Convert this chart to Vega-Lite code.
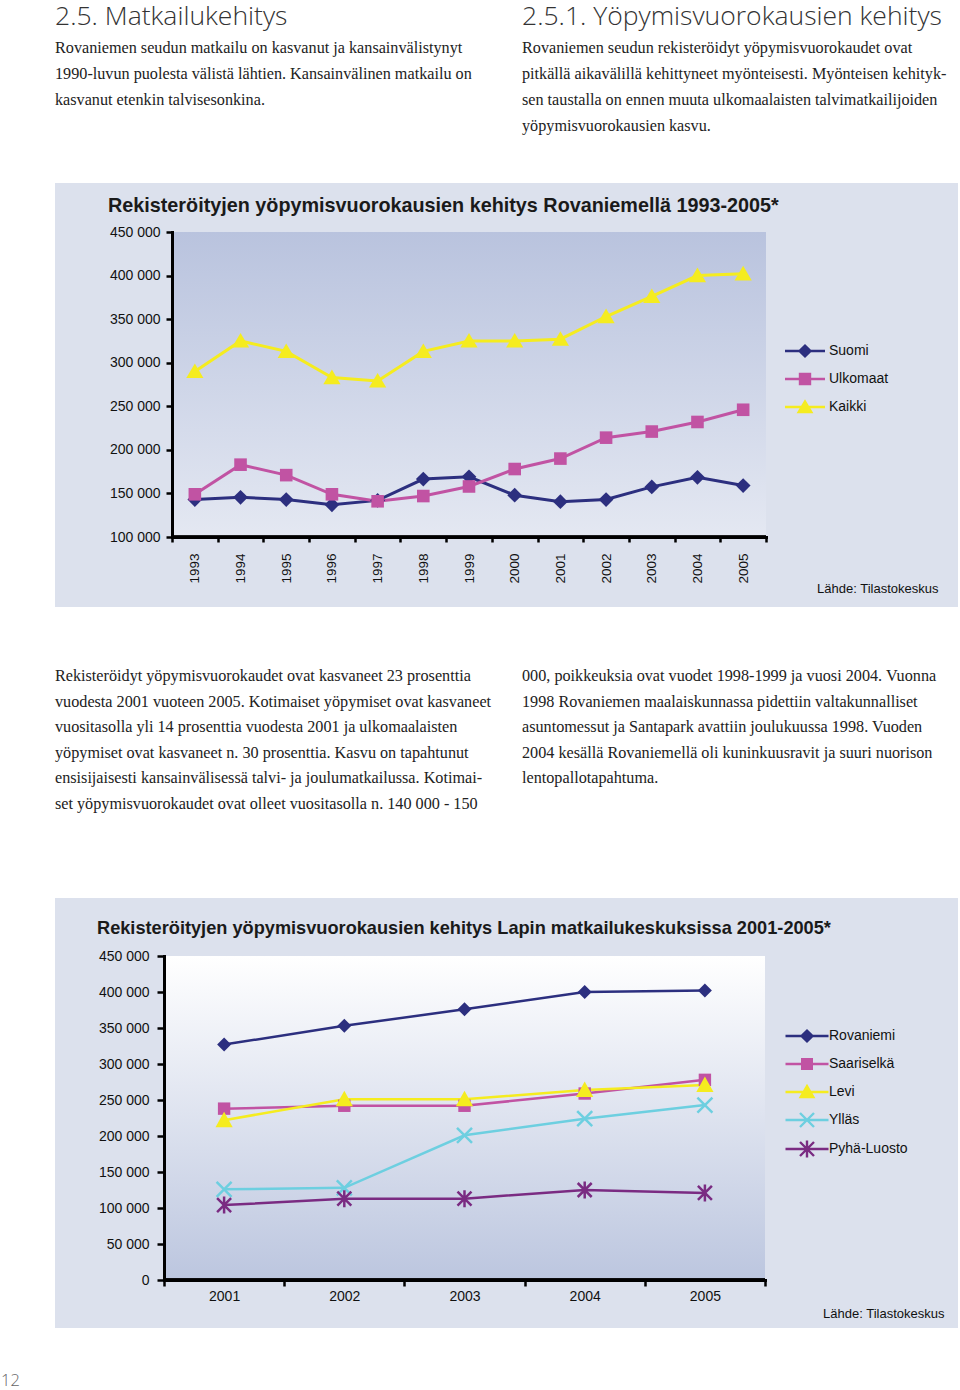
{
  "$schema": "https://vega.github.io/schema/vega-lite/v6.json",
  "background": "white",
  "padding": {"left": 1, "top": 0, "right": 2, "bottom": 0},
  "spacing": 0,
  "config": {"view": {"stroke": null}, "font": "Liberation Sans"},
  "resolve": {"scale": {"color": "independent", "shape": "independent"}, "legend": {"color": "independent", "shape": "independent"}},
  "title": {"text": "12", "orient": "bottom", "anchor": "start", "frame": "bounds", "dx": -47, "offset": 58, "baseline": "alphabetic", "font": "Open Sans", "fontWeight": 300, "fontSize": 16.5, "color": "#666666"},
  "datasets": {
    "intro": [
      {"col": 0, "line": 0, "text": "2.5. Matkailukehitys"},
      {"col": 0, "line": 1, "text": "Rovaniemen seudun matkailu on kasvanut ja kansainvälistynyt"},
      {"col": 0, "line": 2, "text": "1990-luvun puolesta välistä lähtien. Kansainvälinen matkailu on"},
      {"col": 0, "line": 3, "text": "kasvanut etenkin talvisesonkina."},
      {"col": 1, "line": 0, "text": "2.5.1. Yöpymisvuorokausien kehitys"},
      {"col": 1, "line": 1, "text": "Rovaniemen seudun rekisteröidyt yöpymisvuorokaudet ovat"},
      {"col": 1, "line": 2, "text": "pitkällä aikavälillä kehittyneet myönteisesti. Myönteisen kehityk-"},
      {"col": 1, "line": 3, "text": "sen taustalla on ennen muuta ulkomaalaisten talvimatkailijoiden"},
      {"col": 1, "line": 4, "text": "yöpymisvuorokausien kasvu."}
    ],
    "body": [
      {"col": 0, "line": 0, "text": "\u00a0\u00a0\u00a0\u00a0Rekisteröidyt yöpymisvuorokaudet ovat kasvaneet 23 prosenttia"},
      {"col": 0, "line": 1, "text": "vuodesta 2001 vuoteen 2005. Kotimaiset yöpymiset ovat kasvaneet"},
      {"col": 0, "line": 2, "text": "vuositasolla yli 14 prosenttia vuodesta 2001 ja ulkomaalaisten"},
      {"col": 0, "line": 3, "text": "yöpymiset ovat kasvaneet n. 30 prosenttia. Kasvu on tapahtunut"},
      {"col": 0, "line": 4, "text": "ensisijaisesti kansainvälisessä talvi- ja joulumatkailussa. Kotimai-"},
      {"col": 0, "line": 5, "text": "set yöpymisvuorokaudet ovat olleet vuositasolla n. 140 000 - 150"},
      {"col": 1, "line": 0, "text": "000, poikkeuksia ovat vuodet 1998-1999 ja vuosi 2004. Vuonna"},
      {"col": 1, "line": 1, "text": "1998 Rovaniemen maalaiskunnassa pidettiin valtakunnalliset"},
      {"col": 1, "line": 2, "text": "asuntomessut ja Santapark avattiin joulukuussa 1998. Vuoden"},
      {"col": 1, "line": 3, "text": "2004 kesällä Rovaniemellä oli kuninkuusravit ja suuri nuorison"},
      {"col": 1, "line": 4, "text": "lentopallotapahtuma."}
    ],
    "rov": [
      {"series": "Suomi", "year": 1993, "value": 143000},
      {"series": "Suomi", "year": 1994, "value": 145500},
      {"series": "Suomi", "year": 1995, "value": 143000},
      {"series": "Suomi", "year": 1996, "value": 137000},
      {"series": "Suomi", "year": 1997, "value": 142000},
      {"series": "Suomi", "year": 1998, "value": 166500},
      {"series": "Suomi", "year": 1999, "value": 169000},
      {"series": "Suomi", "year": 2000, "value": 148000},
      {"series": "Suomi", "year": 2001, "value": 140500},
      {"series": "Suomi", "year": 2002, "value": 143000},
      {"series": "Suomi", "year": 2003, "value": 157500},
      {"series": "Suomi", "year": 2004, "value": 168500},
      {"series": "Suomi", "year": 2005, "value": 159000},
      {"series": "Ulkomaat", "year": 1993, "value": 149000},
      {"series": "Ulkomaat", "year": 1994, "value": 183000},
      {"series": "Ulkomaat", "year": 1995, "value": 171000},
      {"series": "Ulkomaat", "year": 1996, "value": 149000},
      {"series": "Ulkomaat", "year": 1997, "value": 141000},
      {"series": "Ulkomaat", "year": 1998, "value": 147000},
      {"series": "Ulkomaat", "year": 1999, "value": 158000},
      {"series": "Ulkomaat", "year": 2000, "value": 178000},
      {"series": "Ulkomaat", "year": 2001, "value": 190000},
      {"series": "Ulkomaat", "year": 2002, "value": 214000},
      {"series": "Ulkomaat", "year": 2003, "value": 221000},
      {"series": "Ulkomaat", "year": 2004, "value": 232000},
      {"series": "Ulkomaat", "year": 2005, "value": 246000},
      {"series": "Kaikki", "year": 1993, "value": 290000},
      {"series": "Kaikki", "year": 1994, "value": 325000},
      {"series": "Kaikki", "year": 1995, "value": 313000},
      {"series": "Kaikki", "year": 1996, "value": 283000},
      {"series": "Kaikki", "year": 1997, "value": 279000},
      {"series": "Kaikki", "year": 1998, "value": 313000},
      {"series": "Kaikki", "year": 1999, "value": 325000},
      {"series": "Kaikki", "year": 2000, "value": 325000},
      {"series": "Kaikki", "year": 2001, "value": 327000},
      {"series": "Kaikki", "year": 2002, "value": 353000},
      {"series": "Kaikki", "year": 2003, "value": 376000},
      {"series": "Kaikki", "year": 2004, "value": 400000},
      {"series": "Kaikki", "year": 2005, "value": 402000}
    ],
    "lappi": [
      {"series": "Rovaniemi", "year": 2001, "value": 327000},
      {"series": "Rovaniemi", "year": 2002, "value": 353000},
      {"series": "Rovaniemi", "year": 2003, "value": 376000},
      {"series": "Rovaniemi", "year": 2004, "value": 400000},
      {"series": "Rovaniemi", "year": 2005, "value": 402000},
      {"series": "Saariselkä", "year": 2001, "value": 238000},
      {"series": "Saariselkä", "year": 2002, "value": 242000},
      {"series": "Saariselkä", "year": 2003, "value": 242000},
      {"series": "Saariselkä", "year": 2004, "value": 259000},
      {"series": "Saariselkä", "year": 2005, "value": 278000},
      {"series": "Levi", "year": 2001, "value": 222000},
      {"series": "Levi", "year": 2002, "value": 251000},
      {"series": "Levi", "year": 2003, "value": 251000},
      {"series": "Levi", "year": 2004, "value": 264000},
      {"series": "Levi", "year": 2005, "value": 271000},
      {"series": "Ylläs", "year": 2001, "value": 126000},
      {"series": "Ylläs", "year": 2002, "value": 128000},
      {"series": "Ylläs", "year": 2003, "value": 201000},
      {"series": "Ylläs", "year": 2004, "value": 224000},
      {"series": "Ylläs", "year": 2005, "value": 243000},
      {"series": "Pyhä-Luosto", "year": 2001, "value": 104000},
      {"series": "Pyhä-Luosto", "year": 2002, "value": 113000},
      {"series": "Pyhä-Luosto", "year": 2003, "value": 113000},
      {"series": "Pyhä-Luosto", "year": 2004, "value": 125000},
      {"series": "Pyhä-Luosto", "year": 2005, "value": 121000}
    ]
  },
  "vconcat": [
    {
      "width": 903,
      "height": 182,
      "data": {"name": "intro"},
      "encoding": {
        "x": {"field": "col", "type": "quantitative", "scale": {"domain": [0, 1], "range": [0, 467]}, "axis": null},
        "y": {"field": "line", "type": "quantitative", "scale": {"domain": [0, 4], "range": [27, 131]}, "axis": null},
        "text": {"field": "text", "type": "nominal"}
      },
      "layer": [
        {"transform": [{"filter": "datum.line === 0"}], "mark": {"type": "text", "align": "left", "baseline": "alphabetic", "font": "Open Sans", "fontWeight": 300, "fontSize": 26.5, "color": "#333333", "dy": -2}},
        {"transform": [{"filter": "datum.line > 0"}], "mark": {"type": "text", "align": "left", "baseline": "alphabetic", "font": "Liberation Serif", "fontSize": 16.2, "color": "#222222"}}
      ]
    },
    {
      "width": 903,
      "height": 424,
      "title": {"text": "Rekisteröityjen yöpymisvuorokausien kehitys Rovaniemellä 1993-2005*", "anchor": "start", "frame": "group", "orient": "top", "dx": 53, "offset": -48.8, "baseline": "alphabetic", "font": "Liberation Sans", "fontSize": 19.8, "fontWeight": "bold", "color": "#1a1a1a"},
      "resolve": {"scale": {"x": "independent"}, "axis": {"x": "independent", "y": "independent"}},
      "layer": [
        {
          "data": {"values": [{}]},
          "encoding": {
            "x": {"datum": 0, "type": "quantitative", "scale": {"domain": [0, 1], "range": [117, 711]}, "axis": null},
            "y": {"datum": 100000, "type": "quantitative", "scale": {"domain": [100000, 450000], "range": [354, 49], "nice": false, "zero": false}, "axis": null}
          },
          "layer": [
            {
              "mark": {"type": "rect", "color": "#dce1ed"},
              "encoding": {
                "x": {"datum": -0.19697, "type": "quantitative", "scale": {"domain": [0, 1], "range": [117, 711]}, "axis": null},
                "x2": {"datum": 1.32323},
                "y": {"datum": 19672, "type": "quantitative", "scale": {"domain": [100000, 450000], "range": [354, 49], "nice": false, "zero": false}, "axis": null},
                "y2": {"datum": 506230}
              }
            },
            {
              "mark": {"type": "rect", "fill": {"gradient": "linear", "x1": 0, "y1": 0, "x2": 0, "y2": 1, "stops": [{"offset": 0, "color": "#b9c3de"}, {"offset": 1, "color": "#e4e8f2"}]}},
              "encoding": {
                "x2": {"datum": 1},
                "y2": {"datum": 450000}
              }
            },
            {
              "data": {"values": [{"g": 150000}, {"g": 200000}, {"g": 250000}, {"g": 300000}, {"g": 350000}, {"g": 400000}, {"g": 450000}]},
              "mark": {"type": "rule", "color": "#000000", "strokeWidth": 2.5},
              "encoding": {
                "x2": {"datum": 1},
                "y": {"field": "g", "type": "quantitative", "scale": {"domain": [100000, 450000], "range": [354, 49], "nice": false, "zero": false}, "axis": null}
              }
            }
          ]
        },
        {
          "data": {"name": "rov"},
          "encoding": {
            "x": {"field": "year", "type": "ordinal", "scale": {"range": [117, 711], "paddingInner": 0, "paddingOuter": 0},
              "axis": {"orient": "bottom", "offset": -70, "tickBand": "extent", "labelAngle": 270, "labelPadding": 11, "tickSize": 5, "tickWidth": 2.5, "tickColor": "#000000", "domainColor": "#000000", "domainWidth": 3, "domainCap": "square", "labelFont": "Liberation Sans", "labelFontSize": 13.5, "labelColor": "#111111", "grid": false, "zindex": 1,
                "title": "Lähde: Tilastokeskus", "titleX": 883, "titleY": 55, "titleAlign": "right", "titleBaseline": "alphabetic", "titleFont": "Liberation Sans", "titleFontSize": 13, "titleFontWeight": "normal", "titleColor": "#111111"}},
            "y": {"field": "value", "type": "quantitative", "scale": {"domain": [100000, 450000], "range": [354, 49], "nice": false, "zero": false},
              "axis": {"orient": "left", "offset": -117, "values": [100000, 150000, 200000, 250000, 300000, 350000, 400000, 450000], "labelExpr": "replace(format(datum.value, ',d'), ',', ' ')", "grid": false, "domainColor": "#000000", "domainWidth": 3, "domainCap": "square", "tickColor": "#000000", "tickWidth": 2.5, "tickSize": 6, "labelPadding": 6, "labelFont": "Liberation Sans", "labelFontSize": 14, "labelColor": "#111111", "title": null, "zindex": 1}}
          },
          "layer": [
            {
              "transform": [{"filter": "false"}],
              "mark": {"type": "point", "filled": true, "opacity": 1},
              "encoding": {
                "color": {"field": "series", "type": "nominal", "scale": {"domain": ["Suomi", "Ulkomaat", "Kaikki"], "range": ["#2c2f7f", "#c153a3", "#f5ec1f"]},
                  "legend": {"orient": "none", "legendX": 740, "legendY": 158, "title": null, "symbolSize": 400, "symbolStrokeWidth": 0, "symbolOpacity": 1, "labelFont": "Liberation Sans", "labelFontSize": 14, "labelColor": "#111111", "labelOffset": 14, "rowPadding": 11}},
                "shape": {"field": "series", "type": "nominal", "scale": {"domain": ["Suomi", "Ulkomaat", "Kaikki"], "range": [
                  "M-2,-0.13L2,-0.13L2,0.13L-2,0.13ZM0,-0.7L0.72,0L0,0.7L-0.72,0Z",
                  "M-2,-0.13L2,-0.13L2,0.13L-2,0.13ZM-0.62,-0.62L0.62,-0.62L0.62,0.62L-0.62,0.62Z",
                  "M-2,-0.13L2,-0.13L2,0.13L-2,0.13ZM0,-0.78L0.84,0.62L-0.84,0.62Z"]},
                  "legend": {"orient": "none", "legendX": 740, "legendY": 158, "title": null, "symbolSize": 400, "symbolStrokeWidth": 0, "symbolOpacity": 1, "labelFont": "Liberation Sans", "labelFontSize": 14, "labelColor": "#111111", "labelOffset": 14, "rowPadding": 11}}
              }
            },
            {
              "mark": {"type": "line", "strokeWidth": 3},
              "encoding": {"color": {"field": "series", "type": "nominal", "scale": {"domain": ["Suomi", "Ulkomaat", "Kaikki"], "range": ["#2c2f7f", "#c153a3", "#f5ec1f"]}, "legend": null}}
            },
            {
              "transform": [{"filter": "datum.series === 'Suomi'"}],
              "mark": {"type": "point", "filled": true, "size": 400, "opacity": 1, "shape": "M0,-0.74L0.74,0L0,0.74L-0.74,0Z"},
              "encoding": {"color": {"field": "series", "type": "nominal", "scale": {"domain": ["Suomi", "Ulkomaat", "Kaikki"], "range": ["#2c2f7f", "#c153a3", "#f5ec1f"]}, "legend": null}}
            },
            {
              "transform": [{"filter": "datum.series === 'Ulkomaat'"}],
              "mark": {"type": "point", "filled": true, "size": 400, "opacity": 1, "shape": "M-0.63,-0.63L0.63,-0.63L0.63,0.63L-0.63,0.63Z"},
              "encoding": {"color": {"field": "series", "type": "nominal", "scale": {"domain": ["Suomi", "Ulkomaat", "Kaikki"], "range": ["#2c2f7f", "#c153a3", "#f5ec1f"]}, "legend": null}}
            },
            {
              "transform": [{"filter": "datum.series === 'Kaikki'"}],
              "mark": {"type": "point", "filled": true, "size": 400, "opacity": 1, "shape": "M0,-0.8L0.86,0.66L-0.86,0.66Z"},
              "encoding": {"color": {"field": "series", "type": "nominal", "scale": {"domain": ["Suomi", "Ulkomaat", "Kaikki"], "range": ["#2c2f7f", "#c153a3", "#f5ec1f"]}, "legend": null}}
            }
          ]
        }
      ]
    },
    {
      "width": 903,
      "height": 289,
      "data": {"name": "body"},
      "encoding": {
        "x": {"field": "col", "type": "quantitative", "scale": {"domain": [0, 1], "range": [0, 467]}, "axis": null},
        "y": {"field": "line", "type": "quantitative", "scale": {"domain": [0, 5], "range": [73, 200.5]}, "axis": null},
        "text": {"field": "text", "type": "nominal"}
      },
      "mark": {"type": "text", "align": "left", "baseline": "alphabetic", "font": "Liberation Serif", "fontSize": 16.2, "color": "#222222"}
    },
    {
      "width": 903,
      "height": 430,
      "title": {"text": "Rekisteröityjen yöpymisvuorokausien kehitys Lapin matkailukeskuksissa 2001-2005*", "anchor": "start", "frame": "group", "orient": "top", "dx": 42, "offset": -54.5, "baseline": "alphabetic", "font": "Liberation Sans", "fontSize": 18.2, "fontWeight": "bold", "color": "#1a1a1a"},
      "resolve": {"scale": {"x": "independent"}, "axis": {"x": "independent", "y": "independent"}},
      "layer": [
        {
          "data": {"values": [{}]},
          "encoding": {
            "x": {"datum": 0, "type": "quantitative", "scale": {"domain": [0, 1], "range": [109, 710]}, "axis": null},
            "y": {"datum": 0, "type": "quantitative", "scale": {"domain": [0, 450000], "range": [382, 58], "nice": false, "zero": false}, "axis": null}
          },
          "layer": [
            {
              "mark": {"type": "rect", "color": "#dce1ed"},
              "encoding": {
                "x": {"datum": -0.18136, "type": "quantitative", "scale": {"domain": [0, 1], "range": [109, 710]}, "axis": null},
                "x2": {"datum": 1.32113},
                "y": {"datum": -66667, "type": "quantitative", "scale": {"domain": [0, 450000], "range": [382, 58], "nice": false, "zero": false}, "axis": null},
                "y2": {"datum": 530556}
              }
            },
            {
              "mark": {"type": "rect", "fill": {"gradient": "linear", "x1": 0, "y1": 0, "x2": 0, "y2": 1, "stops": [{"offset": 0, "color": "#ffffff"}, {"offset": 1, "color": "#bcc6df"}]}},
              "encoding": {
                "x2": {"datum": 1},
                "y2": {"datum": 450000}
              }
            },
            {
              "data": {"values": [{"g": 50000}, {"g": 100000}, {"g": 150000}, {"g": 200000}, {"g": 250000}, {"g": 300000}, {"g": 350000}, {"g": 400000}, {"g": 450000}]},
              "mark": {"type": "rule", "color": "#000000", "strokeWidth": 2.5},
              "encoding": {
                "x2": {"datum": 1},
                "y": {"field": "g", "type": "quantitative", "scale": {"domain": [0, 450000], "range": [382, 58], "nice": false, "zero": false}, "axis": null}
              }
            }
          ]
        },
        {
          "data": {"name": "lappi"},
          "encoding": {
            "x": {"field": "year", "type": "ordinal", "scale": {"range": [109, 710], "paddingInner": 0, "paddingOuter": 0},
              "axis": {"orient": "bottom", "offset": -48, "tickBand": "extent", "labelAngle": 0, "labelPadding": 3, "tickSize": 6, "tickWidth": 2.5, "tickColor": "#000000", "domainColor": "#000000", "domainWidth": 3, "domainCap": "square", "labelFont": "Liberation Sans", "labelFontSize": 14, "labelColor": "#111111", "grid": false, "zindex": 1,
                "title": "Lähde: Tilastokeskus", "titleX": 889, "titleY": 37, "titleAlign": "right", "titleBaseline": "alphabetic", "titleFont": "Liberation Sans", "titleFontSize": 13, "titleFontWeight": "normal", "titleColor": "#111111"}},
            "y": {"field": "value", "type": "quantitative", "scale": {"domain": [0, 450000], "range": [382, 58], "nice": false, "zero": false},
              "axis": {"orient": "left", "offset": -109, "values": [0, 50000, 100000, 150000, 200000, 250000, 300000, 350000, 400000, 450000], "labelExpr": "replace(format(datum.value, ',d'), ',', ' ')", "grid": false, "domainColor": "#000000", "domainWidth": 3, "domainCap": "square", "tickColor": "#000000", "tickWidth": 2.5, "tickSize": 7, "labelPadding": 8, "labelFont": "Liberation Sans", "labelFontSize": 14, "labelColor": "#111111", "title": null, "zindex": 1}}
          },
          "layer": [
            {
              "transform": [{"filter": "false"}],
              "mark": {"type": "point", "filled": true, "opacity": 1},
              "encoding": {
                "color": {"field": "series", "type": "nominal", "scale": {"domain": ["Rovaniemi", "Saariselkä", "Levi", "Ylläs", "Pyhä-Luosto"], "range": ["#2c2f7f", "#c153a3", "#f5ec1f", "#6dcfe0", "#7a2b82"]},
                  "legend": {"orient": "none", "legendX": 742, "legendY": 128, "title": null, "symbolSize": 400, "symbolStrokeWidth": 0, "symbolOpacity": 1, "labelFont": "Liberation Sans", "labelFontSize": 14, "labelColor": "#111111", "labelOffset": 12, "rowPadding": 11}},
                "shape": {"field": "series", "type": "nominal", "scale": {"domain": ["Rovaniemi", "Saariselkä", "Levi", "Ylläs", "Pyhä-Luosto"], "range": [
                  "M-2.15,-0.13L2.15,-0.13L2.15,0.13L-2.15,0.13ZM0,-0.7L0.72,0L0,0.7L-0.72,0Z",
                  "M-2.15,-0.13L2.15,-0.13L2.15,0.13L-2.15,0.13ZM-0.6,-0.6L0.6,-0.6L0.6,0.6L-0.6,0.6Z",
                  "M-2.15,-0.13L2.15,-0.13L2.15,0.13L-2.15,0.13ZM0,-0.82L0.84,0.62L-0.84,0.62Z",
                  "M-2.15,-0.13L2.15,-0.13L2.15,0.13L-2.15,0.13ZM-0.615,-0.785L0.785,0.615L0.615,0.785L-0.785,-0.615ZM-0.785,0.615L0.615,-0.785L0.785,-0.615L-0.615,0.785Z",
                  "M-2.15,-0.13L2.15,-0.13L2.15,0.13L-2.15,0.13ZM-0.615,-0.785L0.785,0.615L0.615,0.785L-0.785,-0.615ZM-0.785,0.615L0.615,-0.785L0.785,-0.615L-0.615,0.785ZM-0.12,-0.85L0.12,-0.85L0.12,0.85L-0.12,0.85Z"]},
                  "legend": {"orient": "none", "legendX": 742, "legendY": 128, "title": null, "symbolSize": 400, "symbolStrokeWidth": 0, "symbolOpacity": 1, "labelFont": "Liberation Sans", "labelFontSize": 14, "labelColor": "#111111", "labelOffset": 12, "rowPadding": 11}}
              }
            },
            {
              "mark": {"type": "line", "strokeWidth": 2.5},
              "encoding": {"color": {"field": "series", "type": "nominal", "scale": {"domain": ["Rovaniemi", "Saariselkä", "Levi", "Ylläs", "Pyhä-Luosto"], "range": ["#2c2f7f", "#c153a3", "#f5ec1f", "#6dcfe0", "#7a2b82"]}, "legend": null}}
            },
            {
              "transform": [{"filter": "datum.series === 'Rovaniemi'"}],
              "mark": {"type": "point", "filled": true, "size": 400, "opacity": 1, "shape": "M0,-0.7L0.7,0L0,0.7L-0.7,0Z"},
              "encoding": {"color": {"field": "series", "type": "nominal", "scale": {"domain": ["Rovaniemi", "Saariselkä", "Levi", "Ylläs", "Pyhä-Luosto"], "range": ["#2c2f7f", "#c153a3", "#f5ec1f", "#6dcfe0", "#7a2b82"]}, "legend": null}}
            },
            {
              "transform": [{"filter": "datum.series === 'Saariselkä'"}],
              "mark": {"type": "point", "filled": true, "size": 400, "opacity": 1, "shape": "M-0.62,-0.62L0.62,-0.62L0.62,0.62L-0.62,0.62Z"},
              "encoding": {"color": {"field": "series", "type": "nominal", "scale": {"domain": ["Rovaniemi", "Saariselkä", "Levi", "Ylläs", "Pyhä-Luosto"], "range": ["#2c2f7f", "#c153a3", "#f5ec1f", "#6dcfe0", "#7a2b82"]}, "legend": null}}
            },
            {
              "transform": [{"filter": "datum.series === 'Levi'"}],
              "mark": {"type": "point", "filled": true, "size": 400, "opacity": 1, "shape": "M0,-0.85L0.86,0.7L-0.86,0.7Z"},
              "encoding": {"color": {"field": "series", "type": "nominal", "scale": {"domain": ["Rovaniemi", "Saariselkä", "Levi", "Ylläs", "Pyhä-Luosto"], "range": ["#2c2f7f", "#c153a3", "#f5ec1f", "#6dcfe0", "#7a2b82"]}, "legend": null}}
            },
            {
              "transform": [{"filter": "datum.series === 'Ylläs'"}],
              "mark": {"type": "point", "filled": false, "size": 400, "opacity": 1, "strokeWidth": 2.5, "shape": "M-0.75,-0.75L0.75,0.75M-0.75,0.75L0.75,-0.75"},
              "encoding": {"color": {"field": "series", "type": "nominal", "scale": {"domain": ["Rovaniemi", "Saariselkä", "Levi", "Ylläs", "Pyhä-Luosto"], "range": ["#2c2f7f", "#c153a3", "#f5ec1f", "#6dcfe0", "#7a2b82"]}, "legend": null}}
            },
            {
              "transform": [{"filter": "datum.series === 'Pyhä-Luosto'"}],
              "mark": {"type": "point", "filled": false, "size": 400, "opacity": 1, "strokeWidth": 2.5, "shape": "M-0.7,-0.7L0.7,0.7M-0.7,0.7L0.7,-0.7M0,-0.85L0,0.85"},
              "encoding": {"color": {"field": "series", "type": "nominal", "scale": {"domain": ["Rovaniemi", "Saariselkä", "Levi", "Ylläs", "Pyhä-Luosto"], "range": ["#2c2f7f", "#c153a3", "#f5ec1f", "#6dcfe0", "#7a2b82"]}, "legend": null}}
            }
          ]
        }
      ]
    }
  ]
}
